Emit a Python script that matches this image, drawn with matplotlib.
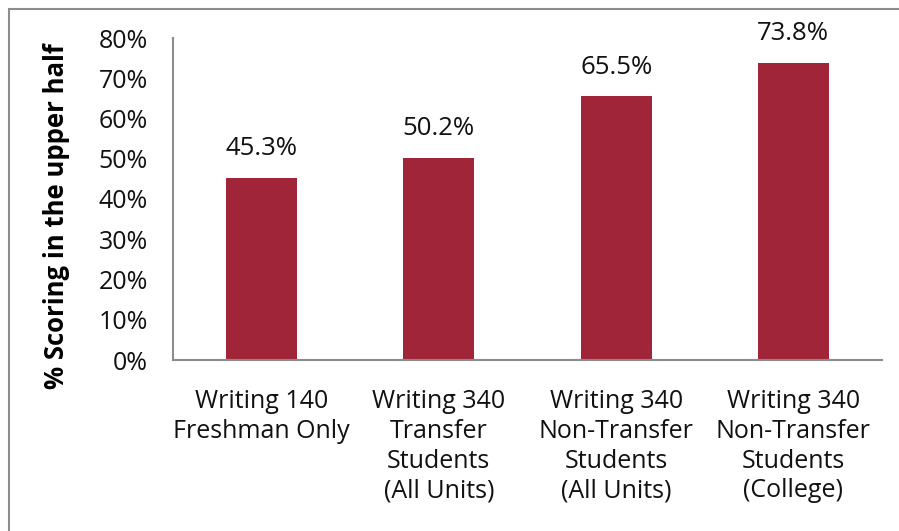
import matplotlib
matplotlib.use("Agg")
import matplotlib.pyplot as plt
from matplotlib.patches import Rectangle

categories = [
    "Writing 140\nFreshman Only",
    "Writing 340\nTransfer\nStudents\n(All Units)",
    "Writing 340\nNon-Transfer\nStudents\n(All Units)",
    "Writing 340\nNon-Transfer\nStudents\n(College)",
]
values = [45.3, 50.2, 65.5, 73.8]
yticks = [0, 10, 20, 30, 40, 50, 60, 70, 80]

plt.rcParams['font.family'] = ['Open Sans', 'DejaVu Sans']

fig = plt.figure(figsize=(8.99, 5.31), dpi=100)
ax = fig.add_axes([173 / 899, 1 - 360 / 531, (882 - 173) / 899, (360 - 38) / 531])

x = range(len(values))
bars = ax.bar(x, values, width=0.4, color='#A12539')
ax.set_xlim(-0.5, len(values) - 0.5)
ax.set_ylim(0, 80)
ax.set_yticks(yticks)
ax.set_yticklabels([f"{t}%" for t in yticks], fontsize=18, color='#111111')
ax.set_xticks(list(x))
ax.set_xticklabels(categories, fontsize=18, color='#111111', linespacing=1.25)
ax.tick_params(axis='y', length=0, pad=18)
ax.tick_params(axis='x', length=0, pad=21)

for s in ['top', 'right']:
    ax.spines[s].set_visible(False)
for s in ['left', 'bottom']:
    ax.spines[s].set_color('#8c8c8c')
    ax.spines[s].set_linewidth(1.5)

for b, v in zip(bars, values):
    ax.annotate(f"{v}%", (b.get_x() + b.get_width() / 2, v), xytext=(0, 12),
                textcoords='offset points', ha='center', va='bottom',
                fontsize=18.5, color='#111111')

fig.text(57 / 899, 1 - 216 / 531, "% Scoring in the upper half", rotation=90,
         ha='center', va='center', fontsize=18.5, fontweight='bold', color='#000000')

# outer chart frame
fig.patches.append(Rectangle((9 / 899, -0.1), 1.1, 1 - 9 / 531 + 0.1, transform=fig.transFigure,
                             fill=False, edgecolor='#8c8c8c', linewidth=1.5))

fig.savefig("out.png", dpi=100)
